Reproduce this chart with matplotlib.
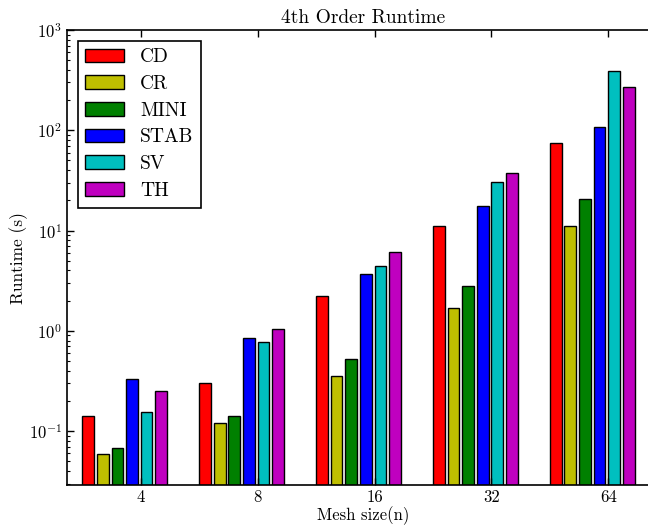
import numpy as np
import matplotlib
matplotlib.use("Agg")
import matplotlib.pyplot as plt

plt.rcParams['font.family'] = ['cmr10', 'DejaVu Serif']
plt.rcParams['mathtext.fontset'] = 'cm'
plt.rcParams['axes.formatter.use_mathtext'] = True

# Data
mesh_sizes = ['4', '8', '16', '32', '64']
methods = ['CD', 'CR', 'MINI', 'STAB', 'SV', 'TH']
colors = ['r', 'y', 'g', 'b', 'c', 'm']

cd = [0.141, 0.30, 2.2, 11.2, 74.5]
cr = [0.059, 0.12, 0.356, 1.68, 11.1]
mini = [0.068, 0.141, 0.522, 2.83, 20.4]
stab = [0.33, 0.85, 3.7, 17.7, 108]
sv = [0.156, 0.77, 4.48, 30.4, 394]
th = [0.25, 1.05, 6.13, 37.6, 269]
runtimes = [cd, cr, mini, stab, sv, th]

# Layout
step = 0.125
width = 0.1
ind = np.arange(len(mesh_sizes))

fig = plt.figure(figsize=(6.48, 5.25), dpi=100)
# axes run slightly past the right edge, so the right spine is cut off as in the original
ax = fig.add_axes([67 / 648, 40 / 525, 593 / 648, 455 / 525])

for k, (name, vals) in enumerate(zip(methods, runtimes)):
    ax.bar(ind + k * step, vals, width, align='edge', color=colors[k],
           edgecolor='black', linewidth=1.0, label=name)

ax.set_yscale('log')
ax.set_ylim(0.029, 1000)
ax.set_xlim(-0.131, 4.942)
ax.set_xticks(ind + 0.5)
ax.set_xticklabels(mesh_sizes)

ax.tick_params(which='both', direction='in', top=True, right=True, labelsize=12)
ax.tick_params(which='major', length=5, width=1)
ax.tick_params(which='minor', length=2.5, width=0.8)
for s in ax.spines.values():
    s.set_linewidth(1.2)

ax.set_title('4th Order Runtime', fontsize=14, pad=5)
ax.set_xlabel('Mesh size(n)', fontsize=12, labelpad=1)
ax.set_ylabel('Runtime (s)', fontsize=12.5, labelpad=0.5)

leg = ax.legend(loc='upper left', fontsize=14, fancybox=False, framealpha=1,
                edgecolor='black', borderaxespad=0.55, labelspacing=0.45,
                handlelength=2.0, handleheight=0.7)
leg.get_frame().set_linewidth(1.2)

fig.savefig('out.png', dpi=100)
